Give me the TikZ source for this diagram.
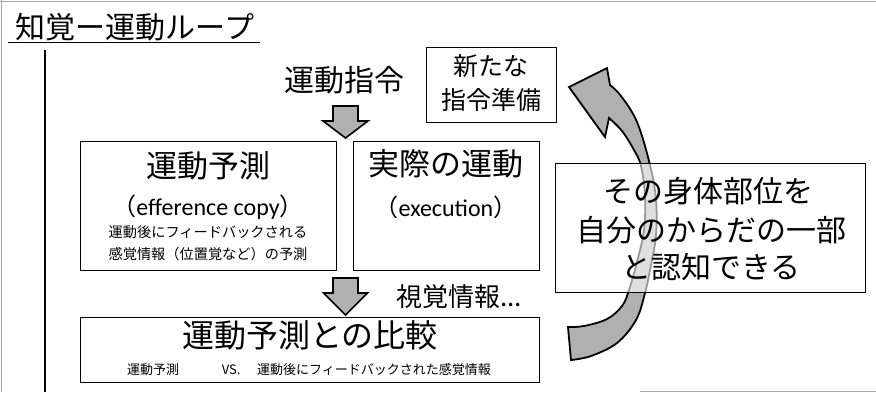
\documentclass[tikz,border=0pt]{standalone}
\usepackage{fontspec}
\setmainfont{Noto Sans CJK JP}
\newfontfamily\lat{Carlito}
\newcommand\myfs[1]{\fontsize{#1}{#1}\selectfont}
\begin{document}
\begin{tikzpicture}[x=1pt,y=-1pt,
  box/.style={draw=black, line width=0.9pt, inner sep=0pt},
  txt/.style={inner sep=0pt, outer sep=0pt},
  blockarrow/.style={draw=black, line width=1.6pt, fill=gray!62, line join=miter},
  bigarrow/.style={draw=black, line width=1.8pt, fill=gray!62, line join=miter},
  frame/.style={draw=gray!70, line width=1pt}]
\useasboundingbox (0,0) rectangle (876,392);
\fill[white] (0,0) rectangle (876,392);
% scan frame
\coordinate (f1) at (0,1); \coordinate (f2) at (876,1);
\coordinate (f3) at (1,0); \coordinate (f4) at (1,392);
\coordinate (f5) at (640,391); \coordinate (f6) at (876,391);
\draw[frame] (f1) -- (f2);
\draw[frame] (f3) -- (f4);
\draw[frame] (f5) -- (f6);
% title
\node[txt, font=\myfs{30}] (title) at (135,27) {知覚ー運動ループ};
\coordinate (ul1) at (8,42); \coordinate (ul2) at (260,42);
\draw[line width=1pt] (ul1) -- (ul2);
\coordinate (v1) at (45,50); \coordinate (v2) at (45,392);
\draw[line width=2.4pt] (v1) -- (v2);
% motor command
\node[txt, font=\myfs{30}] (cmd) at (344,80) {運動指令};
\node[box, minimum width=130pt, minimum height=75pt] (newb) at (491,84.5) {};
\node[txt, font=\myfs{25}] (new1) at (491,66.5) {新たな};
\node[txt, font=\myfs{25}] (new2) at (491,100) {指令準備};
% block arrow 1
\coordinate (a1) at (345.5,106);
\draw[blockarrow, shift={(a1)}] (-12.5,0) -- (12.5,0) -- (12.5,15) -- (22.5,15) -- (0,32) -- (-22.5,15) -- (-12.5,15) -- cycle;
% prediction box
\node[box, minimum width=256pt, minimum height=129pt] (pred) at (208,205.5) {};
\node[txt, font=\myfs{31}] (predt) at (208,166) {運動予測};
\node[txt, font=\myfs{24}] (efc) at (208,207) {（{\lat efference copy}）};
\node[txt, font=\myfs{14.2}] (pred1) at (208,232) {運動後にフィードバックされる};
\node[txt, font=\myfs{14.2}] (pred2) at (208,254) {感覚情報（位置覚など）の予測};
% execution box
\node[box, minimum width=186pt, minimum height=129pt] (exec) at (446,205.5) {};
\node[txt, font=\myfs{31}] (exect) at (446,164) {実際の運動};
\node[txt, font=\myfs{24}] (exe) at (446,207) {（{\lat execution}）};
% block arrow 2
\coordinate (a2) at (345.5,278);
\draw[blockarrow, shift={(a2)}] (-12.5,0) -- (12.5,0) -- (12.5,15) -- (22,15) -- (0,37) -- (-22,15) -- (-12.5,15) -- cycle;
\node[txt, font=\myfs{26}] (vis) at (459,297) {視覚情報...};
% comparison box
\node[box, minimum width=459pt, minimum height=65pt] (cmp) at (309.5,349.5) {};
\node[txt, font=\myfs{32}] (cmpt) at (310,335) {運動予測との比較};
\node[txt, font=\myfs{13}] (cmps) at (309,370) {運動予測\hspace{38pt}\makebox[28pt]{VS.}\hspace{12pt}運動後にフィードバックされた感覚情報};
% big curved arrow
\draw[bigarrow] (569,87) -- (607,68) -- (610,85)
  -- plot[smooth, tension=0.6] coordinates {(610,85) (621,96) (637,122) (650,165) (656,200) (656,235) (651,265) (645,293) (636,320) (617,343) (591,356) (571,360)}
  -- (568,327)
  -- plot[smooth, tension=0.6] coordinates {(568,327) (584,326) (607,319) (622,306) (629,290) (637,262) (644,230) (645,196) (641,166) (634,150) (622,131) (609,118)}
  -- (605,137) -- cycle;
% self box
\node[box, minimum width=310pt, minimum height=129pt, fill=white, fill opacity=0.6, text opacity=1] (self) at (710,227.5) {};
\node[txt, font=\myfs{30}] (r1) at (708,191) {その身体部位を};
\node[txt, font=\myfs{30}] (r2) at (711,230) {自分のからだの一部};
\node[txt, font=\myfs{30}] (r3) at (711,267) {と認知できる};
\end{tikzpicture}
\end{document}
